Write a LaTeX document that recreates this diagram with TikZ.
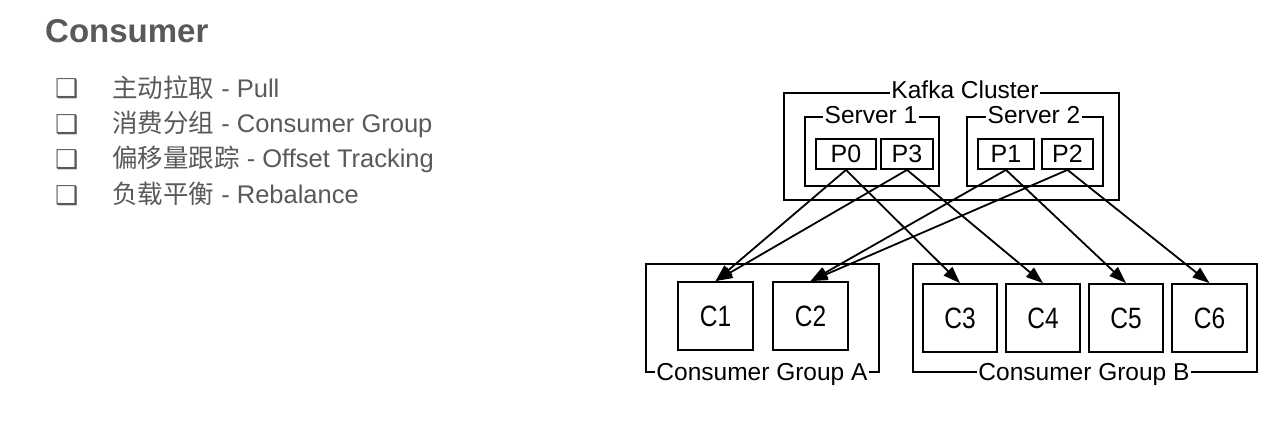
\documentclass[tikz,border=0pt]{standalone}
\usepackage{fontspec}
\setmainfont{Liberation Sans}
\newfontfamily\cjkf{Noto Sans CJK SC}
\newfontfamily\symf{DejaVu Sans}
\usetikzlibrary{arrows.meta}
\definecolor{txtgray}{HTML}{595959}
\begin{document}
\begin{tikzpicture}[x=1pt,y=-1pt,
  box/.style={draw=black, line width=1.8pt, rectangle, inner sep=0pt},
  lbl/.style={fill=white, inner sep=1.5pt, anchor=base, font=\fontsize{24.5}{24.5}\selectfont},
  plbl/.style={font=\fontsize{25}{25}\selectfont},
  clbl/.style={font=\fontsize{24.5}{24.5}\selectfont},
  conn/.style={line width=1.8pt, -{Triangle[length=17pt,width=12pt]}},
  bul/.style={anchor=base west, inner sep=0pt, text=txtgray, font=\symf\fontsize{26}{26}\selectfont},
  item/.style={anchor=base west, inner sep=0pt, text=txtgray, font=\fontsize{25.5}{25.5}\selectfont}]
\useasboundingbox (0,0) rectangle (1280,422);
% title and list
\node[anchor=base west, inner sep=0pt, text=txtgray, font=\bfseries\fontsize{33}{33}\selectfont] (title) at (45,43) {Consumer};
\node[bul] (b1) at (55,98) {❑};
\node[bul] (b2) at (55,134) {❑};
\node[bul] (b3) at (55,169) {❑};
\node[bul] (b4) at (55,205) {❑};
\node[item] (t1) at (112,98) {{\cjkf 主动拉取} - Pull};
\node[item] (t2) at (112,133) {{\cjkf 消费分组} - Consumer Group};
\node[item] (t3) at (112,168) {{\cjkf 偏移量跟踪} - Offset Tracking};
\node[item] (t4) at (112,204) {{\cjkf 负载平衡} - Rebalance};
% cluster
\node[box, minimum width=335pt, minimum height=107pt] (cluster) at (951.5,146.5) {};
\node[box, minimum width=134pt, minimum height=69pt] (s1) at (872,151.5) {};
\node[box, minimum width=136pt, minimum height=69pt] (s2) at (1035,151.5) {};
\node[box, minimum width=60pt, minimum height=30pt, plbl] (p0) at (846,154) {P0};
\node[box, minimum width=52pt, minimum height=30pt, plbl] (p3) at (907,154) {P3};
\node[box, minimum width=56pt, minimum height=30pt, plbl] (p1) at (1006,154) {P1};
\node[box, minimum width=51pt, minimum height=30pt, plbl] (p2) at (1067.5,154) {P2};
\node[lbl] (lcl) at (965,98.5) {Kafka Cluster};
\node[lbl] (ls1) at (871,124) {Server 1};
\node[lbl] (ls2) at (1034,124) {Server 2};
% consumer groups
\node[box, minimum width=233pt, minimum height=108pt] (ga) at (762.5,318) {};
\node[box, minimum width=344pt, minimum height=108pt] (gb) at (1085,318) {};
\node[box, minimum width=75pt, minimum height=68pt, clbl] (c1) at (715.5,316) {\scalebox{1}[1.2]{C1}};
\node[box, minimum width=75pt, minimum height=68pt, clbl] (c2) at (810.5,316) {\scalebox{1}[1.2]{C2}};
\node[box, minimum width=74pt, minimum height=68pt, clbl] (c3) at (960,318) {\scalebox{1}[1.2]{C3}};
\node[box, minimum width=74pt, minimum height=68pt, clbl] (c4) at (1043,318) {\scalebox{1}[1.2]{C4}};
\node[box, minimum width=74pt, minimum height=68pt, clbl] (c5) at (1126,318) {\scalebox{1}[1.2]{C5}};
\node[box, minimum width=75pt, minimum height=68pt, clbl] (c6) at (1209.5,318) {\scalebox{1}[1.2]{C6}};
\node[lbl] (lga) at (762,380) {Consumer Group A};
\node[lbl] (lgb) at (1084,380) {Consumer Group B};
% connectors
\draw[conn] (p0.south) -- (c1.north);
\draw[conn] (p0.south) -- (c3.north);
\draw[conn] (p3.south) -- (c1.north);
\draw[conn] (p3.south) -- (c4.north);
\draw[conn] (p1.south) -- (c2.north);
\draw[conn] (p1.south) -- (c5.north);
\draw[conn] (p2.south) -- (c2.north);
\draw[conn] (p2.south) -- (c6.north);
\end{tikzpicture}
\end{document}
